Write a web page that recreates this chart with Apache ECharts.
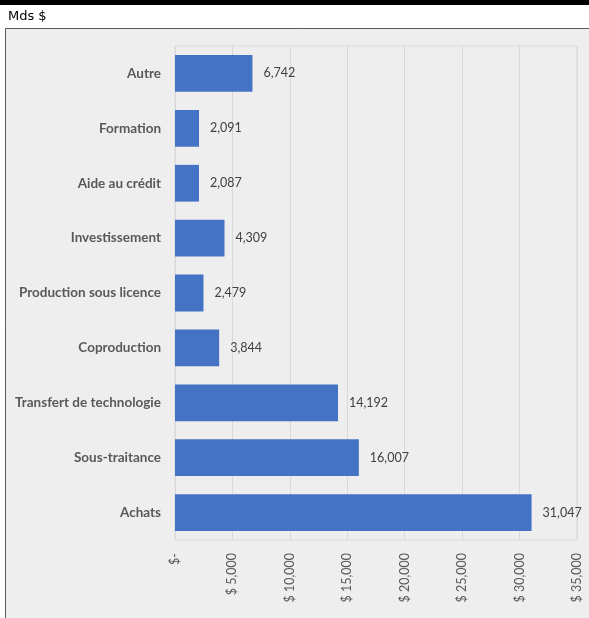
<!DOCTYPE html>
<html><head><meta charset="utf-8">
<script src="https://cdn.jsdelivr.net/npm/echarts@6/dist/echarts.min.js"></script>
<style>html,body{margin:0;padding:0;background:#fff}#c{width:589px;height:618px}</style>
</head><body><div id="c"></div>
<script>
const categories = ["Autre","Formation","Aide au crédit","Investissement","Production sous licence","Coproduction","Transfert de technologie","Sous-traitance","Achats"];
const values = [6742,2091,2087,4309,2479,3844,14192,16007,31047];
const axisMin = 0, axisMax = 35000, axisStep = 5000;
const unitLabel = "Mds $";

const chart = echarts.init(document.getElementById('c'), null, {renderer:'canvas'});
chart.setOption({
  backgroundColor:'#ffffff',
  animation:false,
  graphic:[
    {type:'rect', shape:{x:0,y:0,width:589,height:5}, style:{fill:'#000'}, z:-1},
    {type:'rect', shape:{x:5.5,y:28.5,width:600,height:600}, style:{fill:'#eeeeee', stroke:'#595959', lineWidth:1}, z:-2},
    {type:'text', left:8, top:10, style:{text:unitLabel, font:'13px "DejaVu Sans"', fill:'#000'}}
  ],
  grid:{left:175, right:12, top:46, bottom:78, show:true, borderColor:'#d9d9d9', borderWidth:1, backgroundColor:'transparent'},
  xAxis:{
    type:'value', min:axisMin, max:axisMax, interval:axisStep,
    axisLine:{show:false}, axisTick:{show:false},
    splitLine:{lineStyle:{color:'#d9d9d9', width:1}},
    axisLabel:{rotate:90, margin:13, color:'#595959', fontFamily:'Lato', fontSize:12.5,
      formatter:v => v===0 ? '$-' : '$ ' + v.toLocaleString('en-US')}
  },
  yAxis:{
    type:'category', data:categories, inverse:true,
    axisLine:{show:false}, axisTick:{show:false},
    axisLabel:{margin:14, color:'#595959', fontFamily:'Lato', fontWeight:'bold', fontSize:13.5}
  },
  series:[{
    type:'bar', data:values, barCategoryGap:'33%',
    itemStyle:{color:'#4472c4'},
    label:{show:true, position:'right', distance:11, color:'#404040', fontFamily:'Lato', fontSize:12.5,
      formatter:p => p.value.toLocaleString('en-US')}
  }]
});
</script></body></html>
